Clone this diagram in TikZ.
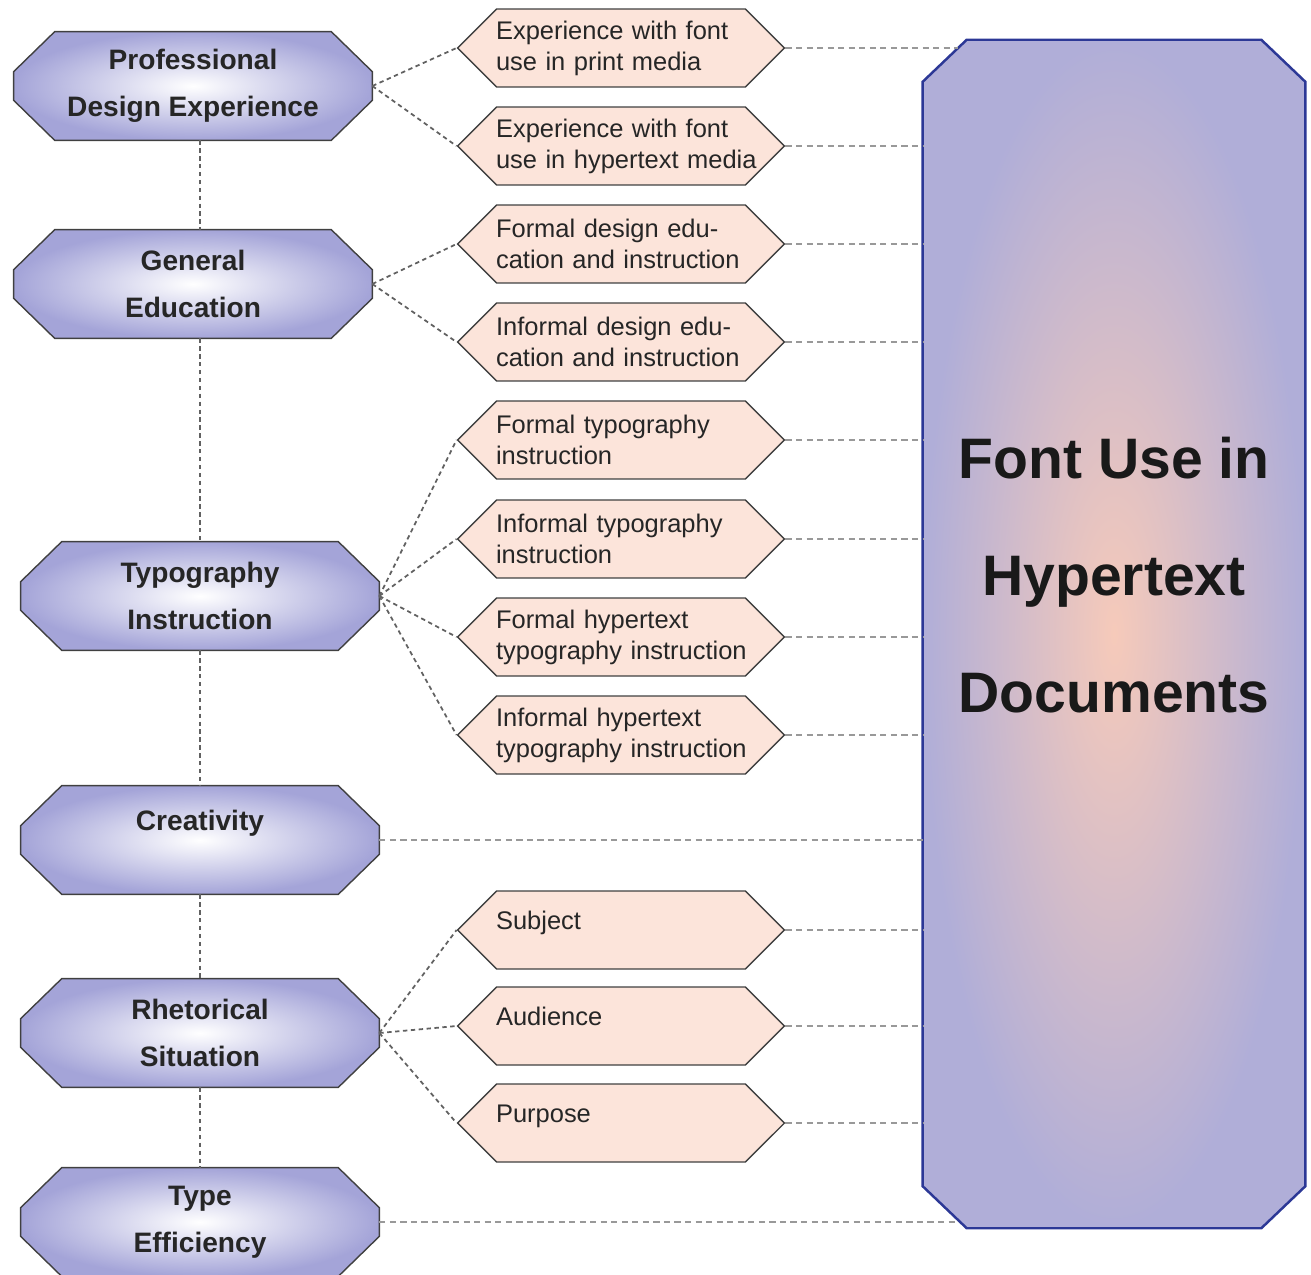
\documentclass[tikz,border=0pt]{standalone}
\usepackage{fontspec}
\setmainfont{Liberation Sans}
\usetikzlibrary{shapes.symbols,positioning,calc,backgrounds}
\definecolor{lav}{RGB}{164,164,216}
\definecolor{peach}{RGB}{252,228,218}
\definecolor{bigblue}{RGB}{44,56,150}
\definecolor{bigfill}{RGB}{176,174,216}
\definecolor{glow}{RGB}{246,202,186}

\tikzset{
  factor/.style={rectangle, inner sep=0pt,
    minimum width=7.16cm, minimum height=2.16cm, align=center,
    font=\fontsize{16}{27}\selectfont\bfseries, text=black!85},
  octline/.style={draw=black!75, line width=0.8pt,
    shade, inner color=white, outer color=lav},
  item/.style={signal, signal to=east and west, signal pointer angle=90,
    draw=black!75, fill=peach, line width=0.8pt, minimum width=6.54cm,
    minimum height=1.56cm, text width=5.5cm, align=left,
    inner xsep=-0.27cm, inner ysep=0pt,
    execute at begin node={\leftskip=0.25cm},
    font=\fontsize{14.5}{17.6}\selectfont, text=black!85},
  bigbox/.style={rectangle, inner sep=0pt,
    minimum width=7.64cm, minimum height=23.76cm},
  bigline/.style={draw=bigblue, line width=1.4pt,
    shade, inner color=glow, outer color=bigfill},
  bigtext/.style={align=center, inner sep=0pt,
    font=\fontsize{32.5}{66.5}\selectfont\bfseries, text=black!90},
  link/.style={draw=black!62, dash pattern=on 2.5pt off 2pt, line width=1pt},
  flow/.style={draw=black!40, dash pattern=on 3.5pt off 2.5pt, line width=1.6pt},
}

\begin{document}
\begin{tikzpicture}[x=0.02cm, y=-0.02cm]
    \useasboundingbox (0,0) rectangle (1311,1274);

    % main factors on the left
    \node[factor] (prof) at (193,86) {Professional\\Design Experience};
    \node[factor] (gen) at (193,284) {General\\Education};
    \node[factor] (typo) at (200,596) {Typography\\Instruction};
    \node[factor, text depth=22pt] (crea) at (200,840) {Creativity};
    \node[factor] (rhet) at (200,1033) {Rhetorical\\Situation};
    \node[factor] (teff) at (200,1222) {Type\\Efficiency};

    % sub factors in the middle
    \foreach \n/\y/\t in {
        pa/48/{Experience with font\\use in print media},
        pb/146/{Experience with font\\use in hypertext media},
        pc/244/{Formal design edu-\\cation and instruction},
        pd/342/{Informal design edu-\\cation and instruction},
        pe/440/{Formal typography\\instruction},
        pf/539/{Informal typography\\instruction},
        pg/637/{Formal hypertext\\typography instruction},
        ph/735/{Informal hypertext\\typography instruction}}
        \node[item] (\n) at (621,\y) {\t};

    \foreach \n/\y/\t in {
        pi/930/Subject,
        pj/1026/Audience,
        pk/1123/Purpose}
        \node[item, text depth=11pt] (\n) at (621,\y) {\t};

    % the outcome
    \node[bigbox] (big) at (1114,634) {};
    \node[bigtext] (title) at (1114,575) {Font Use in\\Hypertext\\Documents};

    % octagon outlines behind the texts
    \begin{scope}[on background layer]
        \foreach \n in {prof,gen,typo,crea,rhet,teff}
            \path[octline] ($(\n.north west)+(41,0)$) -- ($(\n.north east)+(-41,0)$)
                -- ($(\n.north east)+(0,40)$) -- ($(\n.south east)+(0,-40)$)
                -- ($(\n.south east)+(-41,0)$) -- ($(\n.south west)+(41,0)$)
                -- ($(\n.south west)+(0,-40)$) -- ($(\n.north west)+(0,40)$) -- cycle;
        \path[bigline] ($(big.north west)+(44,0)$) -- ($(big.north east)+(-44,0)$)
            -- ($(big.north east)+(0,42)$) -- ($(big.south east)+(0,-42)$)
            -- ($(big.south east)+(-44,0)$) -- ($(big.south west)+(44,0)$)
            -- ($(big.south west)+(0,-42)$) -- ($(big.north west)+(0,42)$) -- cycle;
    \end{scope}

    % links between the factors
    \foreach \a/\b in {prof/gen, gen/typo, typo/crea, crea/rhet, rhet/teff}
        \draw[link] (\a.south -| typo) -- (\b.north -| typo);

    \foreach \n in {pa,pb} \draw[link] (prof.east) -- (\n.west);
    \foreach \n in {pc,pd} \draw[link] (gen.east) -- (\n.west);
    \foreach \n in {pe,pf,pg,ph} \draw[link] (typo.east) -- (\n.west);
    \foreach \n in {pi,pj,pk} \draw[link] (rhet.east) -- (\n.west);

    % links into the outcome
    \coordinate (topcut) at (958,48);
    \coordinate (botcut) at (959,1222);
    \draw[flow] (pa.east) -- (topcut);
    \foreach \n in {pb,pc,pd,pe,pf,pg,ph,pi,pj,pk}
        \draw[flow] (\n.east) -- (\n.east -| big.west);
    \draw[flow] (crea.east) -- (crea.east -| big.west);
    \draw[flow] (teff.east) -- (botcut);
\end{tikzpicture}
\end{document}
